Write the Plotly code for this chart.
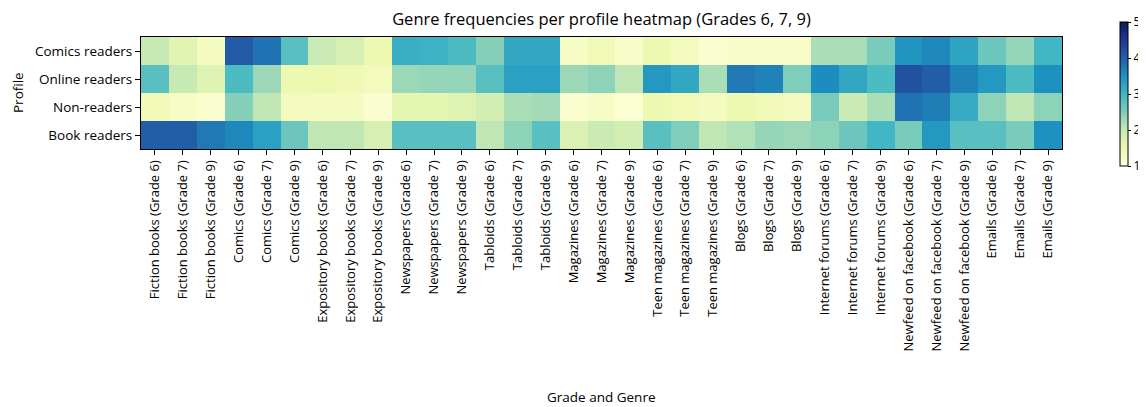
import plotly.graph_objects as go

genres = ["Fiction books", "Comics", "Expository books", "Newspapers", "Tabloids",
          "Magazines", "Teen magazines", "Blogs", "Internet forums",
          "Newfeed on facebook", "Emails"]
grades = ["Grade 6", "Grade 7", "Grade 9"]
columns = [f"{g} ({gr})" for g in genres for gr in grades]

profiles = ["Book readers", "Non-readers", "Online readers", "Comics readers"]

comics_readers = [2.0, 1.65, 1.3, 4.05, 3.8, 2.8, 1.95, 1.8, 1.5, 3.1, 3.05, 2.9,
                  2.45, 3.2, 3.2, 1.25, 1.4, 1.2, 1.5, 1.35, 1.15, 1.2, 1.2, 1.2,
                  2.2, 2.2, 2.55, 3.45, 3.6, 3.25, 2.65, 2.35, 3.0]
online_readers = [2.8, 2.0, 1.7, 2.9, 2.3, 1.5, 1.5, 1.45, 1.35, 2.3, 2.35, 2.35,
                  2.8, 3.3, 3.3, 2.3, 2.4, 2.05, 3.4, 3.2, 2.2, 3.75, 3.65, 2.5,
                  3.55, 3.2, 2.9, 4.15, 4.0, 3.65, 3.4, 2.9, 3.5]
non_readers = [1.4, 1.25, 1.15, 2.45, 2.05, 1.35, 1.3, 1.3, 1.15, 1.6, 1.6, 1.7,
               1.85, 2.2, 2.25, 1.15, 1.25, 1.1, 1.5, 1.4, 1.3, 1.5, 1.4, 1.3,
               2.55, 1.95, 2.2, 3.8, 3.7, 3.15, 2.4, 2.05, 2.4]
book_readers = [4.0, 4.0, 3.75, 3.6, 3.3, 2.65, 2.05, 2.05, 1.8, 2.8, 2.8, 2.8,
                2.05, 2.4, 2.8, 1.75, 1.95, 1.85, 2.8, 2.5, 2.05, 2.15, 2.35, 2.3,
                2.4, 2.65, 3.0, 2.55, 3.4, 2.8, 2.8, 2.55, 3.5]

z = [book_readers, non_readers, online_readers, comics_readers]

ylgnbu = [[0.0, "#ffffd9"], [0.125, "#edf8b1"], [0.25, "#c7e9b4"], [0.375, "#7fcdbb"],
          [0.5, "#41b6c4"], [0.625, "#1d91c0"], [0.75, "#225ea8"], [0.875, "#253494"],
          [1.0, "#081d58"]]

font = "Open Sans"
OFF = 8  # page body margin
W, H = 1146 - OFF, 407 - OFF
L, R, T, B = 141 - OFF, 1062 - OFF, 37 - OFF, 149 - OFF
pw, ph = R - L, B - T

fig = go.Figure(go.Heatmap(
    z=z, x=columns, y=profiles, zmin=1, zmax=5, colorscale=ylgnbu,
    colorbar=dict(
        x=(1120 - OFF - L) / pw, xanchor="left", xpad=0, ypad=0,
        y=(B - (22 - OFF)) / ph, yanchor="top", len=(166 - 22) / ph, lenmode="fraction",
        thickness=8, outlinewidth=1, outlinecolor="black",
        tickvals=[1, 2, 3, 4, 5], ticks="outside", ticklen=3, tickcolor="black",
        tickfont=dict(family=font, size=12, color="black"),
    ),
))

fig.update_layout(
    width=W, height=H,
    margin=dict(l=L, r=W - R, t=T, b=H - B, autoexpand=False),
    paper_bgcolor="white", plot_bgcolor="white",
    title=dict(text="Genre frequencies per profile heatmap (Grades 6, 7, 9)",
               x=0.5, xref="paper", xanchor="center", y=1 - (19.5 - OFF) / H, yanchor="middle",
               font=dict(family=font, size=16.5, color="black")),
    font=dict(family=font, size=13.5, color="black"),
    annotations=[
        dict(text="Grade and Genre", xref="paper", yref="paper", x=0.5,
             y=-((397 - OFF) - B) / ph, xanchor="center", yanchor="middle", showarrow=False,
             font=dict(family=font, size=13.5, color="black")),
        dict(text="Profile", xref="paper", yref="paper", x=-(L - (18 - OFF)) / pw,
             y=0.5, xanchor="center", yanchor="middle", showarrow=False, textangle=-90,
             font=dict(family=font, size=13.5, color="black")),
    ],
)
fig.update_xaxes(
    tickangle=-90, ticks="outside", ticklen=5, tickcolor="black", automargin=False,
    showline=True, linecolor="black", linewidth=1, mirror=True,
    tickfont=dict(family=font, size=13, color="black"),
)
fig.update_yaxes(
    ticks="outside", ticklen=5, tickcolor="black", automargin=False,
    showline=True, linecolor="black", linewidth=1, mirror=True,
    tickfont=dict(family=font, size=13.5, color="black"),
)

fig.write_html("out.html")
